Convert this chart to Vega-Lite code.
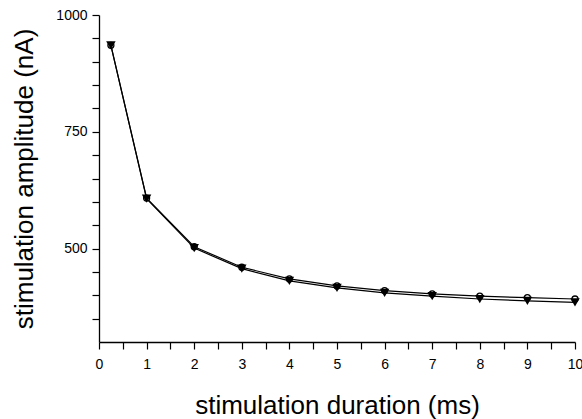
{
  "$schema": "https://vega.github.io/schema/vega-lite/v6.json",
  "width": 476,
  "height": 327,
  "autosize": {"type": "none"},
  "padding": {"left": 99, "top": 15, "right": 7, "bottom": 77},
  "background": "white",
  "config": {
    "view": {"stroke": null},
    "font": "Liberation Sans",
    "axis": {
      "domainColor": "black",
      "domainWidth": 1.3,
      "tickColor": "black",
      "tickWidth": 1.2,
      "tickSize": 7,
      "labelColor": "black",
      "labelFontSize": 14,
      "labelFont": "Liberation Sans",
      "titleFont": "Liberation Sans",
      "titleColor": "black",
      "titleFontSize": 26,
      "titleFontWeight": "normal",
      "grid": false,
      "labelOverlap": false,
      "labelFlush": false
    }
  },
  "data": {
    "values": [
      {"duration": 0.25, "amplitude": 935, "series": "open"},
      {"duration": 1, "amplitude": 608, "series": "open"},
      {"duration": 2, "amplitude": 504, "series": "open"},
      {"duration": 3, "amplitude": 460, "series": "open"},
      {"duration": 4, "amplitude": 435, "series": "open"},
      {"duration": 5, "amplitude": 420, "series": "open"},
      {"duration": 6, "amplitude": 410, "series": "open"},
      {"duration": 7, "amplitude": 403, "series": "open"},
      {"duration": 8, "amplitude": 398, "series": "open"},
      {"duration": 9, "amplitude": 395, "series": "open"},
      {"duration": 10, "amplitude": 392, "series": "open"},
      {"duration": 0.25, "amplitude": 935, "series": "filled"},
      {"duration": 1, "amplitude": 607, "series": "filled"},
      {"duration": 2, "amplitude": 501, "series": "filled"},
      {"duration": 3, "amplitude": 457, "series": "filled"},
      {"duration": 4, "amplitude": 431, "series": "filled"},
      {"duration": 5, "amplitude": 416, "series": "filled"},
      {"duration": 6, "amplitude": 405, "series": "filled"},
      {"duration": 7, "amplitude": 398, "series": "filled"},
      {"duration": 8, "amplitude": 392, "series": "filled"},
      {"duration": 9, "amplitude": 388, "series": "filled"},
      {"duration": 10, "amplitude": 385, "series": "filled"}
    ]
  },
  "encoding": {
    "x": {
      "field": "duration",
      "type": "quantitative",
      "scale": {"domain": [0, 10], "nice": false, "zero": false},
      "axis": {
        "title": "stimulation duration (ms)",
        "values": [0, 0.5, 1, 1.5, 2, 2.5, 3, 3.5, 4, 4.5, 5, 5.5, 6, 6.5, 7, 7.5, 8, 8.5, 9, 9.5, 10],
        "labelExpr": "datum.value % 1 == 0 ? format(datum.value, 'd') : ''",
        "labelPadding": 8,
        "titleX": 238,
        "titleY": 71,
        "titleAlign": "center",
        "titleBaseline": "alphabetic"
      }
    },
    "y": {
      "field": "amplitude",
      "type": "quantitative",
      "scale": {"domain": [300, 1000], "nice": false, "zero": false},
      "axis": {
        "title": "stimulation amplitude (nA)",
        "values": [350, 400, 450, 500, 550, 600, 650, 700, 750, 800, 850, 900, 950, 1000],
        "labelExpr": "datum.value % 250 == 0 ? format(datum.value, 'd') : ''",
        "labelPadding": 5,
        "titleAngle": 270,
        "titleX": -67,
        "titleY": 163.5,
        "titleAlign": "center",
        "titleBaseline": "alphabetic"
      }
    }
  },
  "layer": [
    {
      "transform": [{"filter": "datum.series == 'open'"}],
      "mark": {"type": "line", "color": "black", "strokeWidth": 1.2}
    },
    {
      "transform": [{"filter": "datum.series == 'filled'"}],
      "mark": {"type": "line", "color": "black", "strokeWidth": 1.2}
    },
    {
      "transform": [{"filter": "datum.series == 'open'"}],
      "mark": {"type": "point", "shape": "circle", "filled": false, "fill": "white", "stroke": "black", "strokeWidth": 1.3, "size": 36, "opacity": 1}
    },
    {
      "transform": [{"filter": "datum.series == 'filled'"}],
      "mark": {"type": "point", "shape": "triangle-down", "filled": true, "color": "black", "size": 90, "opacity": 1}
    }
  ]
}
